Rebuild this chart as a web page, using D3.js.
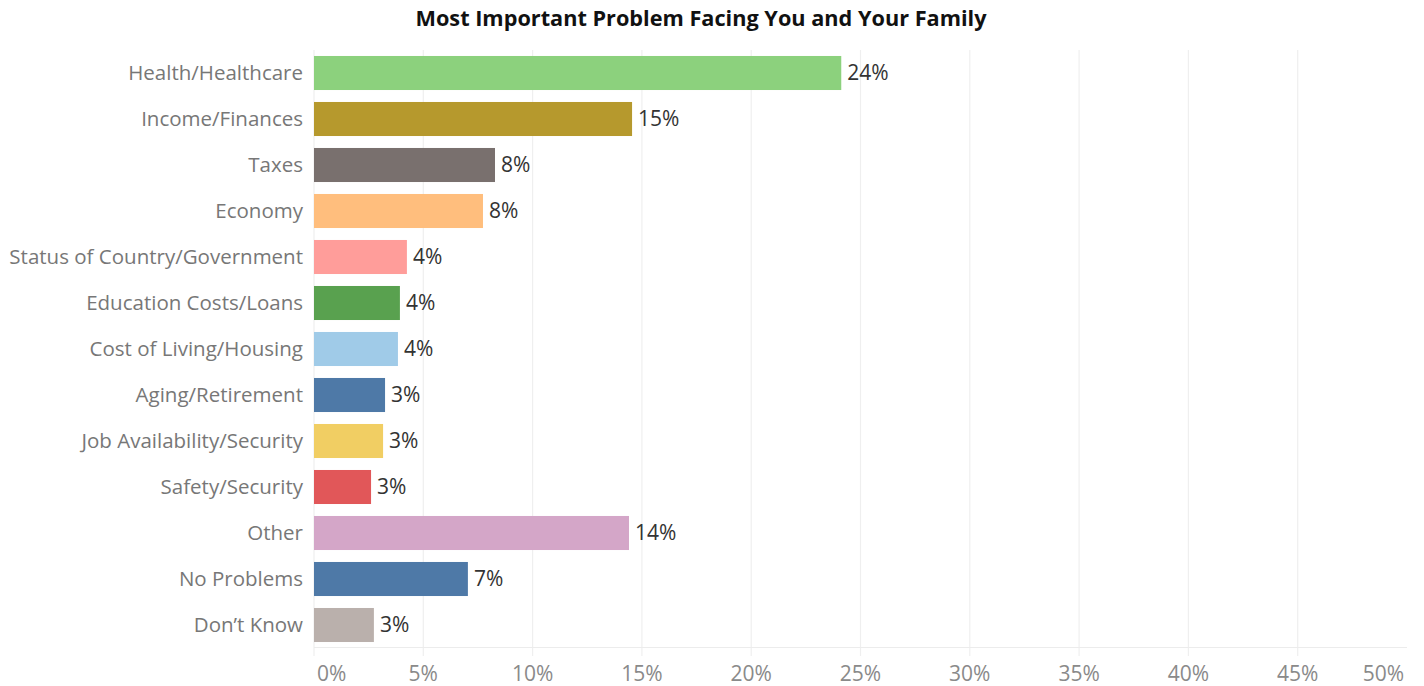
<!DOCTYPE html>
<html lang="en">
<head>
  <meta charset="UTF-8" />
  <title>Most Important Problem Facing You and Your Family</title>
  <style>
    body { margin: 0; background: #fff; font-family: "Open Sans", sans-serif; }
    svg { display: block; }
  </style>
</head>
<body>
  <div id="chart"></div>

  <script src="https://d3js.org/d3.v7.min.js"></script>
  <script>
    const categories = [
      "Health/Healthcare", "Income/Finances", "Taxes", "Economy",
      "Status of Country/Government", "Education Costs/Loans",
      "Cost of Living/Housing", "Aging/Retirement",
      "Job Availability/Security", "Safety/Security", "Other",
      "No Problems", "Don\u2019t Know"
    ];
    const shares = [0.2412, 0.1455, 0.0828, 0.0773, 0.0425, 0.0393, 0.0384,
                    0.0325, 0.0316, 0.0261, 0.1441, 0.0704, 0.0274];
    const barColors = [
      "#8CD17D", "#B6992D", "#79706E", "#FFBE7D", "#FF9D9A", "#59A14F",
      "#A0CBE8", "#4E79A7", "#F1CE63", "#E15759", "#D4A6C8", "#4E79A7", "#BAB0AC"
    ];
    const tickValues = [0, 0.05, 0.1, 0.15, 0.2, 0.25, 0.3, 0.35, 0.4, 0.45, 0.5];

    const width = 1424, height = 686;
    const plotLeft = 314, plotRight = 1407, plotTop = 50, plotBottom = 648;

    const rows = categories.map((c, i) => ({ name: c, value: shares[i], color: barColors[i] }));

    const svg = d3.select("#chart").append("svg")
      .attr("width", width)
      .attr("height", height);

    const x = d3.scaleLinear().domain([0, 0.5]).range([plotLeft, plotRight]);
    const y = d3.scaleBand().domain(categories).range([plotTop, plotBottom])
      .paddingInner(0.26).paddingOuter(0.13);

    // title
    svg.append("text")
      .attr("x", 701)
      .attr("y", 26)
      .attr("text-anchor", "middle")
      .attr("font-size", "21.7px")
      .attr("font-weight", "bold")
      .attr("fill", "#111")
      .text("Most Important Problem Facing You and Your Family");

    // gridlines (last tick sits on the edge, no line there)
    svg.append("g")
      .selectAll("line")
      .data(tickValues.slice(0, -1))
      .enter()
      .append("line")
      .attr("x1", d => x(d)).attr("x2", d => x(d))
      .attr("y1", plotTop).attr("y2", plotBottom + 8)
      .attr("stroke", "#efefef").attr("stroke-width", 1.2);

    svg.append("line")
      .attr("x1", plotLeft).attr("x2", plotRight)
      .attr("y1", plotBottom - 0.5).attr("y2", plotBottom - 0.5)
      .attr("stroke", "#ececec").attr("stroke-width", 1);

    // tick labels: first left-aligned, last right-aligned, rest centred
    const lastTick = tickValues.length - 1;
    svg.append("g")
      .selectAll("text")
      .data(tickValues)
      .enter()
      .append("text")
      .attr("x", (d, i) => i === 0 ? x(d) + 3 : i === lastTick ? x(d) - 3 : x(d))
      .attr("y", 681)
      .attr("text-anchor", (d, i) => i === 0 ? "start" : i === lastTick ? "end" : "middle")
      .attr("font-size", "21px")
      .attr("fill", "#8a8a8a")
      .text(d => d3.format(".0%")(d));

    // bars
    svg.append("g")
      .selectAll("rect")
      .data(rows)
      .enter()
      .append("rect")
      .attr("x", x(0))
      .attr("y", d => y(d.name))
      .attr("width", d => x(d.value) - x(0))
      .attr("height", y.bandwidth())
      .attr("fill", d => d.color);

    // value labels
    svg.append("g")
      .selectAll("text")
      .data(rows)
      .enter()
      .append("text")
      .attr("x", d => x(d.value) + 6)
      .attr("y", d => y(d.name) + y.bandwidth() / 2)
      .attr("dy", "0.35em")
      .attr("font-size", "21px")
      .attr("fill", "#333")
      .text(d => d3.format(".0%")(d.value));

    // category labels
    svg.append("g")
      .selectAll("text")
      .data(rows)
      .enter()
      .append("text")
      .attr("x", 303)
      .attr("y", d => y(d.name) + y.bandwidth() / 2)
      .attr("dy", "0.35em")
      .attr("text-anchor", "end")
      .attr("font-size", "20.5px")
      .attr("fill", "#777")
      .text(d => d.name);
  </script>
</body>
</html>
